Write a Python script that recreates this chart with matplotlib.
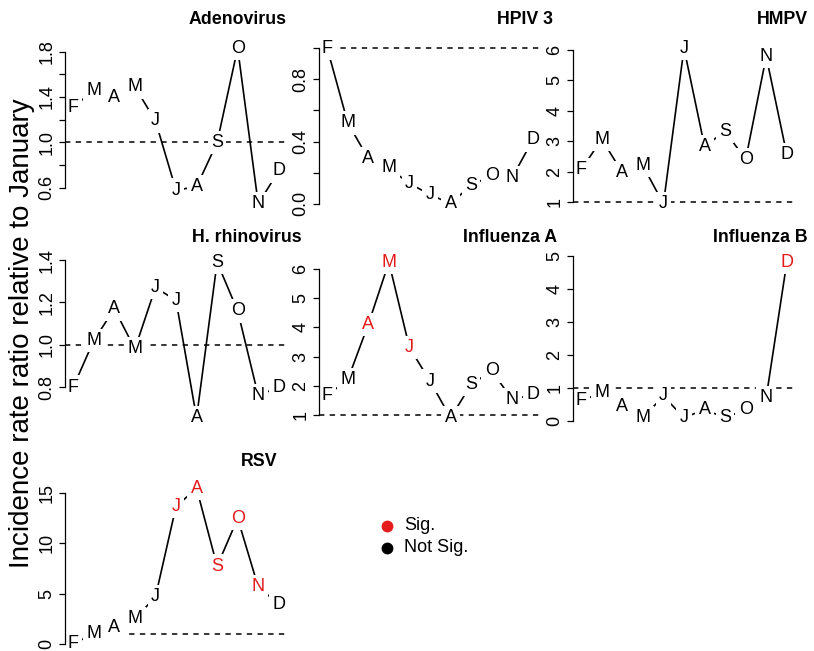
import numpy as np
import matplotlib
matplotlib.use("Agg")
import matplotlib.pyplot as plt
from matplotlib.lines import Line2D

plt.rcParams['font.family'] = ['Liberation Sans', 'DejaVu Sans']

# Months Feb..Dec (January is the reference month)
months = ["F", "M", "A", "M", "J", "J", "A", "S", "O", "N", "D"]
month_num = [2, 3, 4, 5, 6, 7, 8, 9, 10, 11, 12]

# Incidence rate ratios
adeno = [1.31, 1.46, 1.40, 1.49, 1.19, 0.58, 0.61, 1.00, 1.83, 0.46, 0.75]
hpiv3 = [1.00, 0.52, 0.29, 0.23, 0.13, 0.06, 0.00, 0.12, 0.18, 0.17, 0.41]
hmpv = [2.07, 3.07, 1.97, 2.20, 0.95, 6.05, 2.83, 3.33, 2.40, 5.78, 2.57]
hrv = [0.80, 1.02, 1.17, 0.98, 1.27, 1.21, 0.655, 1.39, 1.16, 0.76, 0.80]
flua = [1.67, 2.21, 4.11, 6.24, 3.31, 2.16, 0.90, 2.04, 2.51, 1.53, 1.70]
flub = [0.61, 0.87, 0.45, 0.10, 0.76, 0.10, 0.35, 0.10, 0.35, 0.72, 4.80]
rsv = [0.0, 1.0, 1.67, 2.5, 4.67, 13.67, 15.5, 7.73, 12.5, 5.67, 3.93]

# significant months (1 = Sig.)
adeno_sig = [0, 0, 0, 0, 0, 0, 0, 0, 0, 0, 0]
hpiv3_sig = [0, 0, 0, 0, 0, 0, 0, 0, 0, 0, 0]
hmpv_sig = [0, 0, 0, 0, 0, 0, 0, 0, 0, 0, 0]
hrv_sig = [0, 0, 0, 0, 0, 0, 0, 0, 0, 0, 0]
flua_sig = [0, 0, 1, 1, 1, 0, 0, 0, 0, 0, 0]
flub_sig = [0, 0, 0, 0, 0, 0, 0, 0, 0, 0, 1]
rsv_sig = [0, 0, 0, 0, 0, 1, 1, 1, 1, 1, 0]

# y ticks and labels
adeno_ticks = [0.6, 0.8, 1.0, 1.2, 1.4, 1.6, 1.8]
adeno_labels = ["0.6", "", "1.0", "", "1.4", "", "1.8"]
hpiv3_ticks = [0.0, 0.2, 0.4, 0.6, 0.8, 1.0]
hpiv3_labels = ["0.0", "", "0.4", "", "0.8", ""]
hmpv_ticks = [1, 2, 3, 4, 5, 6]
hmpv_labels = ["1", "2", "3", "4", "5", "6"]
hrv_ticks = [0.8, 1.0, 1.2, 1.4]
hrv_labels = ["0.8", "1.0", "1.2", "1.4"]
flua_ticks = [1, 2, 3, 4, 5, 6]
flua_labels = ["1", "2", "3", "4", "5", "6"]
flub_ticks = [0, 1, 2, 3, 4, 5]
flub_labels = ["0", "1", "2", "3", "4", "5"]
rsv_ticks = [0, 5, 10, 15]
rsv_labels = ["0", "5", "10", "15"]

names = ["Adenovirus", "HPIV 3", "HMPV", "H. rhinovirus", "Influenza A",
         "Influenza B", "RSV"]
series = [adeno, hpiv3, hmpv, hrv, flua, flub, rsv]
sigs = [adeno_sig, hpiv3_sig, hmpv_sig, hrv_sig, flua_sig, flub_sig, rsv_sig]
ticks = [adeno_ticks, hpiv3_ticks, hmpv_ticks, hrv_ticks, flua_ticks,
         flub_ticks, rsv_ticks]
tick_labels = [adeno_labels, hpiv3_labels, hmpv_labels, hrv_labels,
               flua_labels, flub_labels, rsv_labels]

legend_labels = ["Sig.", "Not Sig."]
legend_colors = ["#E41A1C", "black"]
red = "#E41A1C"

# layout in pixels
W, H = 814, 651
col_left = [65, 319, 573]
row_top = [42, 256, 482]
ax_w, ax_h = 222, 168
title_right = [287, 553, 808, 302, 557, 808, 277]
title_y = [20, 20, 20, 237, 237, 237, 462]

fig = plt.figure(figsize=(W / 100, H / 100), dpi=100)

for i in range(7):
    r, c = divmod(i, 3)
    left = col_left[c]
    top = row_top[r]
    ax = fig.add_axes([left / W, 1 - (top + ax_h) / H, ax_w / W, ax_h / H])
    ax.set_axisbelow(False)
    ax.axhline(1, color="black", lw=1.1, ls=(0, (3.5, 3.5)), zorder=1.5)
    ax.plot(month_num, series[i], color="black", lw=1.2, zorder=2)
    ax.margins(x=0.04, y=0.04)
    # letters with a white box give the gaps of R's type="b"
    for x, y, m, s in zip(month_num, series[i], months, sigs[i]):
        ax.text(x, y, m, ha="center", va="center", fontsize=13,
                color=red if s else "black", zorder=2.2,
                bbox=dict(boxstyle="square,pad=0.18", fc="white", ec="none"))
    for sp in ["top", "right", "bottom"]:
        ax.spines[sp].set_visible(False)
    ax.spines["left"].set_bounds(ticks[i][0], ticks[i][-1])
    ax.spines["left"].set_linewidth(0.9)
    ax.spines["left"].set_zorder(3)
    ax.set_xticks([])
    ax.set_yticks(ticks[i])
    ax.set_yticklabels(tick_labels[i], rotation=90, va="center")
    ax.tick_params(axis="y", length=4, width=0.9, labelsize=13, pad=3)
    ax.patch.set_alpha(0)
    tx = (title_right[i] - left) / ax_w
    ty = 1 + (top - title_y[i]) / ax_h
    ax.text(tx, ty, names[i], transform=ax.transAxes, ha="right", va="center",
            fontsize=12.8, fontweight="bold")

# y label
fig.text(22 / W, 1 - 333 / H, "Incidence rate ratio relative to January",
         rotation=90, ha="center", va="center", fontsize=20)

# legend
for k, (lab, col) in enumerate(zip(legend_labels, legend_colors)):
    yy = 1 - (526 + 22 * k) / H
    fig.add_artist(Line2D([387 / W], [yy], transform=fig.transFigure,
                          marker="o", ms=7.5, color=col, ls="none"))
    fig.text(404 / W, yy, lab, ha="left", va="center", fontsize=13)

fig.savefig("out.png", dpi=100)
